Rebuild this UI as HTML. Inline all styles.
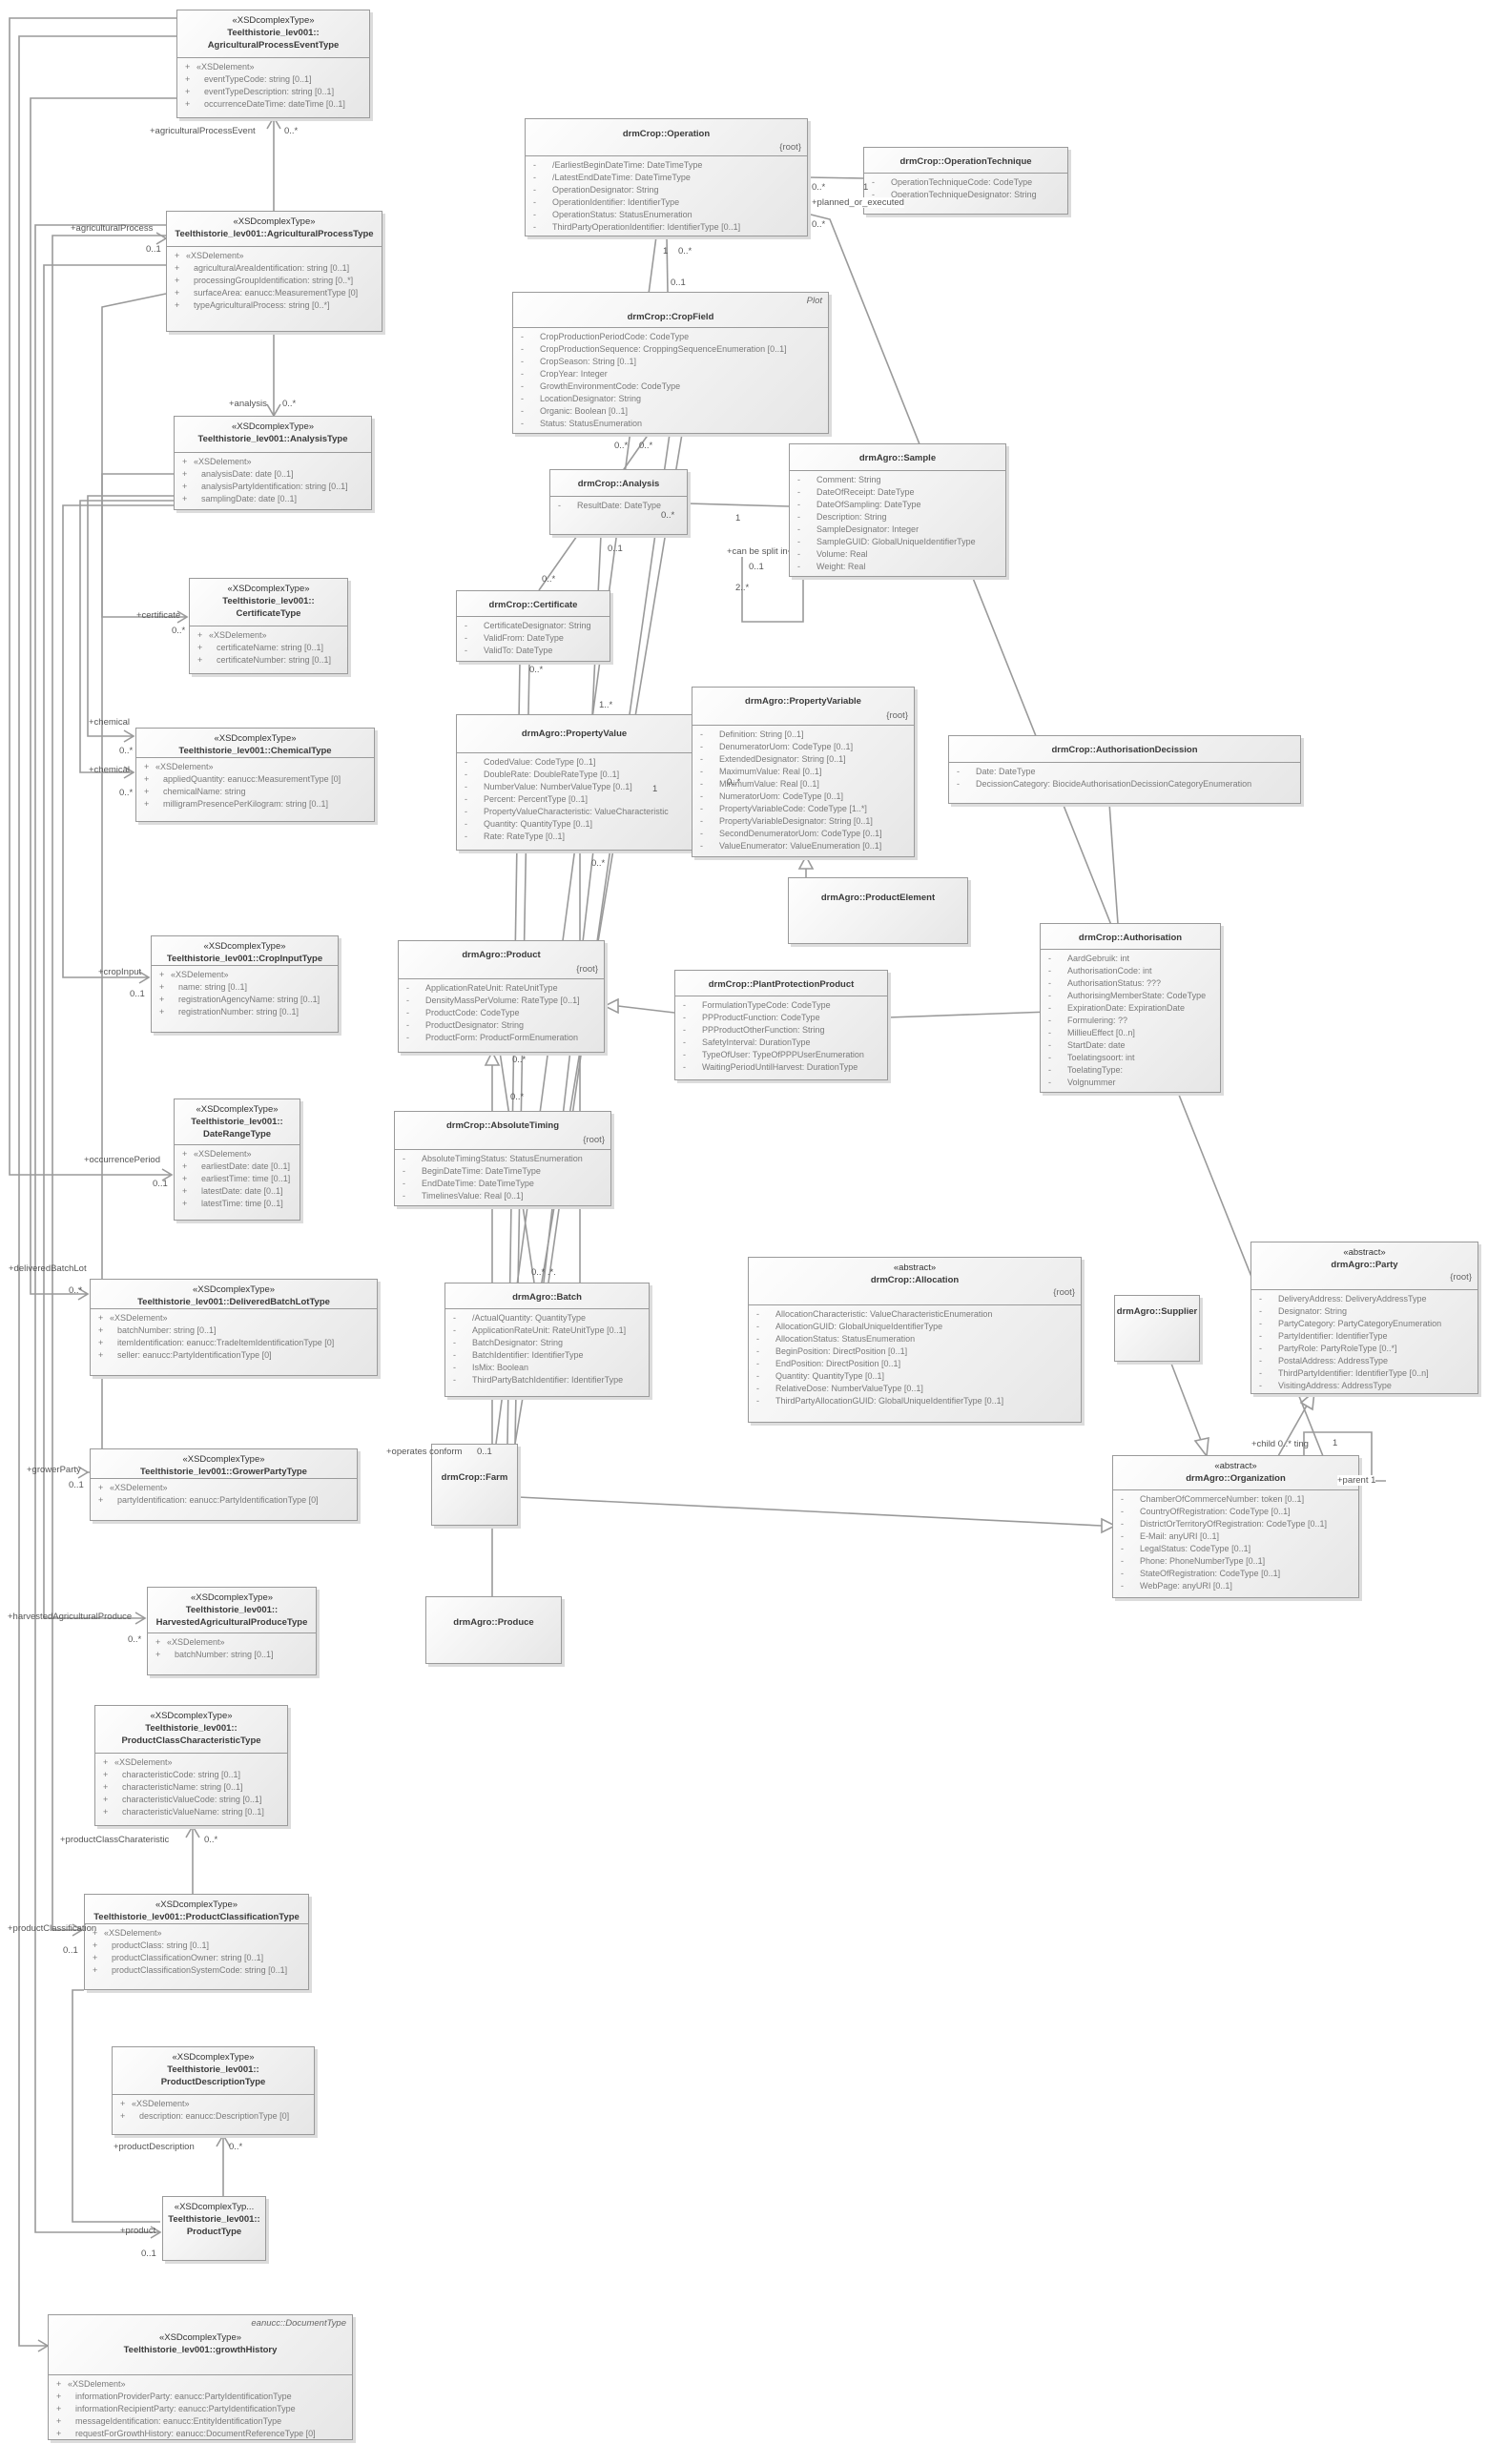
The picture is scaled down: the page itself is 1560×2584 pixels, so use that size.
<!DOCTYPE html>
<html><head><meta charset="utf-8"><style>
body{margin:0;background:#fff;}
#c{position:relative;width:1560px;height:2584px;overflow:hidden;font-family:"Liberation Sans",sans-serif;}
.b{position:absolute;border:1.5px solid #9a9a9a;background:linear-gradient(135deg,#fefefe 0%,#f1f1f1 55%,#e6e6e6 100%);box-shadow:3px 3px 0 #dcdcdc;box-sizing:border-box;font-size:9.5px;}
.h{border-bottom:1.5px solid #9a9a9a;text-align:center;color:#333;line-height:13px;box-sizing:border-box;padding-top:4px;position:relative}
.h b{font-weight:bold;color:#3a3a3a}
.h .r{position:absolute;right:6px;color:#666;}
.a{color:#7a7a7a;line-height:13px;white-space:nowrap;padding:3px 0 0 6px;font-size:9px;overflow:hidden}
.a div{position:relative;padding-left:22px}
.a div:before{content:"-";position:absolute;left:2px}
.a.p div:before{content:"+"}
.a .s{padding-left:14px}
.a .s:before{content:""}
.l{position:absolute;font-size:9.5px;color:#555;white-space:nowrap;line-height:11px}
svg{position:absolute;left:0;top:0}
</style></head><body><div id="c">
<svg width="1560" height="2584" fill="none" stroke="#9a9a9a" stroke-width="1.6">
<polyline points="185,19 10,19 10,1232 180,1232"/>
<polyline points="185,38 20,38 20,2460 50,2460"/>
<polyline points="185,103 32,103 32,1357 92,1357"/>
<polyline points="174,247 55,247 55,2024 86,2024"/>
<polyline points="174,236 37,236 37,2341 168,2341"/>
<polyline points="174,278 46,278 46,1697 152,1697"/>
<polyline points="174,308 107,322 107,1544 92,1544"/>
<polyline points="182,497 107,497 107,647 196,647"/>
<polyline points="182,520 92,520 92,772 140,772"/>
<polyline points="182,525 84,525 84,810 140,810"/>
<polyline points="182,530 66,530 66,1025 156,1025"/>
<polyline points="287,123 287,221"/><polyline points="280,135 287,123 294,135"/>
<polyline points="287,348 287,436"/><polyline points="280,424 287,436 294,424"/>
<polyline points="202,1915 202,1986"/><polyline points="195,1927 202,1915 209,1927"/>
<polyline points="234,2239 234,2303"/><polyline points="227,2251 234,2239 241,2251"/>
<polyline points="88,2087 76,2087 76,2330 168,2330"/>
<polyline points="170,1226 180,1232 170,1238"/>
<polyline points="40,2454 50,2460 40,2466"/>
<polyline points="82,1351 92,1357 82,1363"/>
<polyline points="76,2018 86,2024 76,2030"/>
<polyline points="158,2335 168,2341 158,2347"/>
<polyline points="142,1691 152,1697 142,1703"/>
<polyline points="82,1538 92,1544 82,1550"/>
<polyline points="186,641 196,647 186,653"/>
<polyline points="130,766 140,772 130,778"/>
<polyline points="130,804 140,810 130,816"/>
<polyline points="146,1019 156,1025 146,1031"/>
<polyline points="164,244 174,250 164,256"/>
<line x1="846" y1="186" x2="905" y2="187"/>
<line x1="699" y1="248" x2="700" y2="306"/>
<polyline points="846,224 870,230 1387,1527"/>
<line x1="688" y1="248" x2="520" y2="1514"/>
<line x1="680" y1="455" x2="565" y2="619"/>
<line x1="702" y1="455" x2="575" y2="1345"/>
<line x1="715" y1="455" x2="540" y2="1514"/>
<line x1="721" y1="528" x2="827" y2="531"/>
<line x1="630" y1="561" x2="621" y2="750"/>
<line x1="545" y1="693" x2="532" y2="1514"/>
<line x1="555" y1="693" x2="540" y2="1514"/>
<line x1="608" y1="892" x2="608" y2="1345"/>
<line x1="622" y1="892" x2="570" y2="1345"/>
<line x1="726" y1="813" x2="770" y2="812"/>
<line x1="845" y1="898" x2="845" y2="920"/><polygon points="838,911 845,898 852,911" fill="#fff"/>
<line x1="1163" y1="842" x2="1172" y2="969"/>
<line x1="931" y1="1067" x2="1101" y2="1061"/>
<line x1="707" y1="1062" x2="648" y2="1055"/><polygon points="648,1048 634,1055 648,1062" fill="#fff"/>
<line x1="516" y1="1117" x2="516" y2="1674"/><polygon points="509,1117 516,1103 523,1117" fill="#fff"/>
<line x1="524" y1="1103" x2="560" y2="1345"/>
<line x1="543" y1="1570" x2="1155" y2="1600"/><polygon points="1155,1593 1169,1600 1155,1607" fill="#fff"/>
<line x1="1228" y1="1430" x2="1260" y2="1513"/><polygon points="1253,1511 1265,1527 1267,1508" fill="#fff"/>
<line x1="1340" y1="1527" x2="1370" y2="1474"/><polygon points="1364,1471 1378,1459 1376,1478" fill="#fff"/>
<polyline points="1367,1527 1367,1502 1438,1502 1438,1553 1453,1553"/>
<polyline points="778,578 842,578 842,652 778,652 778,578"/>
</svg>

<div class="b" style="left:185px;top:10px;width:203px;height:114px"><div class="h" style="height:50px">«XSDcomplexType»<br><b>Teelthistorie_lev001::<br>AgriculturalProcessEventType</b></div><div class="a p"><div class="s">«XSDelement»</div><div>eventTypeCode: string [0..1]</div><div>eventTypeDescription: string [0..1]</div><div>occurrenceDateTime: dateTime [0..1]</div></div></div>
<div class="b" style="left:174px;top:221px;width:227px;height:127px"><div class="h" style="height:37px">«XSDcomplexType»<br><b>Teelthistorie_lev001::AgriculturalProcessType</b></div><div class="a p"><div class="s">«XSDelement»</div><div>agriculturalAreaIdentification: string [0..1]</div><div>processingGroupIdentification: string [0..*]</div><div>surfaceArea: eanucc:MeasurementType [0]</div><div>typeAgriculturalProcess: string [0..*]</div></div></div>
<div class="b" style="left:182px;top:436px;width:208px;height:99px"><div class="h" style="height:38px">«XSDcomplexType»<br><b>Teelthistorie_lev001::AnalysisType</b></div><div class="a p"><div class="s">«XSDelement»</div><div>analysisDate: date [0..1]</div><div>analysisPartyIdentification: string [0..1]</div><div>samplingDate: date [0..1]</div></div></div>
<div class="b" style="left:198px;top:606px;width:167px;height:101px"><div class="h" style="height:50px">«XSDcomplexType»<br><b>Teelthistorie_lev001::<br>CertificateType</b></div><div class="a p"><div class="s">«XSDelement»</div><div>certificateName: string [0..1]</div><div>certificateNumber: string [0..1]</div></div></div>
<div class="b" style="left:142px;top:763px;width:251px;height:99px"><div class="h" style="height:31px">«XSDcomplexType»<br><b>Teelthistorie_lev001::ChemicalType</b></div><div class="a p"><div class="s">«XSDelement»</div><div>appliedQuantity: eanucc:MeasurementType [0]</div><div>chemicalName: string</div><div>milligramPresencePerKilogram: string [0..1]</div></div></div>
<div class="b" style="left:158px;top:981px;width:197px;height:102px"><div class="h" style="height:31px">«XSDcomplexType»<br><b>Teelthistorie_lev001::CropInputType</b></div><div class="a p"><div class="s">«XSDelement»</div><div>name: string [0..1]</div><div>registrationAgencyName: string [0..1]</div><div>registrationNumber: string [0..1]</div></div></div>
<div class="b" style="left:182px;top:1152px;width:133px;height:128px"><div class="h" style="height:48px">«XSDcomplexType»<br><b>Teelthistorie_lev001::<br>DateRangeType</b></div><div class="a p"><div class="s">«XSDelement»</div><div>earliestDate: date [0..1]</div><div>earliestTime: time [0..1]</div><div>latestDate: date [0..1]</div><div>latestTime: time [0..1]</div></div></div>
<div class="b" style="left:94px;top:1341px;width:302px;height:102px"><div class="h" style="height:31px">«XSDcomplexType»<br><b>Teelthistorie_lev001::DeliveredBatchLotType</b></div><div class="a p"><div class="s">«XSDelement»</div><div>batchNumber: string [0..1]</div><div>itemIdentification: eanucc:TradeItemIdentificationType [0]</div><div>seller: eanucc:PartyIdentificationType [0]</div></div></div>
<div class="b" style="left:94px;top:1519px;width:281px;height:76px"><div class="h" style="height:31px">«XSDcomplexType»<br><b>Teelthistorie_lev001::GrowerPartyType</b></div><div class="a p"><div class="s">«XSDelement»</div><div>partyIdentification: eanucc:PartyIdentificationType [0]</div></div></div>
<div class="b" style="left:154px;top:1664px;width:178px;height:93px"><div class="h" style="height:48px">«XSDcomplexType»<br><b>Teelthistorie_lev001::<br>HarvestedAgriculturalProduceType</b></div><div class="a p"><div class="s">«XSDelement»</div><div>batchNumber: string [0..1]</div></div></div>
<div class="b" style="left:99px;top:1788px;width:203px;height:127px"><div class="h" style="height:50px">«XSDcomplexType»<br><b>Teelthistorie_lev001::<br>ProductClassCharacteristicType</b></div><div class="a p"><div class="s">«XSDelement»</div><div>characteristicCode: string [0..1]</div><div>characteristicName: string [0..1]</div><div>characteristicValueCode: string [0..1]</div><div>characteristicValueName: string [0..1]</div></div></div>
<div class="b" style="left:88px;top:1986px;width:236px;height:101px"><div class="h" style="height:31px">«XSDcomplexType»<br><b>Teelthistorie_lev001::ProductClassificationType</b></div><div class="a p"><div class="s">«XSDelement»</div><div>productClass: string [0..1]</div><div>productClassificationOwner: string [0..1]</div><div>productClassificationSystemCode: string [0..1]</div></div></div>
<div class="b" style="left:117px;top:2146px;width:213px;height:93px"><div class="h" style="height:50px">«XSDcomplexType»<br><b>Teelthistorie_lev001::<br>ProductDescriptionType</b></div><div class="a p"><div class="s">«XSDelement»</div><div>description: eanucc:DescriptionType [0]</div></div></div>
<div class="b" style="left:170px;top:2303px;width:109px;height:68px"><div class="h" style="height:48px;border-bottom:none">«XSDcomplexTyp...<br><b>Teelthistorie_lev001::<br>ProductType</b></div></div>
<div class="b" style="left:50px;top:2427px;width:320px;height:132px"><div class="h" style="height:63px;padding-top:17px"><span class="r" style="top:2px;font-style:italic">eanucc::DocumentType</span>«XSDcomplexType»<br><b>Teelthistorie_lev001::growthHistory</b></div><div class="a p"><div class="s">«XSDelement»</div><div>informationProviderParty: eanucc:PartyIdentificationType</div><div>informationRecipientParty: eanucc:PartyIdentificationType</div><div>messageIdentification: eanucc:EntityIdentificationType</div><div>requestForGrowthHistory: eanucc:DocumentReferenceType [0]</div></div></div>

<div class="b" style="left:550px;top:124px;width:297px;height:124px"><div class="h" style="height:39px;padding-top:9px"><b>drmCrop::Operation</b><span class="r" style="top:23px">{root}</span></div><div class="a"><div>/EarliestBeginDateTime: DateTimeType</div><div>/LatestEndDateTime: DateTimeType</div><div>OperationDesignator: String</div><div>OperationIdentifier: IdentifierType</div><div>OperationStatus: StatusEnumeration</div><div>ThirdPartyOperationIdentifier: IdentifierType [0..1]</div></div></div>
<div class="b" style="left:905px;top:154px;width:215px;height:71px"><div class="h" style="height:27px;padding-top:8px"><b>drmCrop::OperationTechnique</b></div><div class="a"><div>OperationTechniqueCode: CodeType</div><div>OperationTechniqueDesignator: String</div></div></div>
<div class="b" style="left:537px;top:306px;width:332px;height:149px"><div class="h" style="height:37px;padding-top:19px"><span class="r" style="top:2px;font-style:italic">Plot</span><b>drmCrop::CropField</b></div><div class="a"><div>CropProductionPeriodCode: CodeType</div><div>CropProductionSequence: CroppingSequenceEnumeration [0..1]</div><div>CropSeason: String [0..1]</div><div>CropYear: Integer</div><div>GrowthEnvironmentCode: CodeType</div><div>LocationDesignator: String</div><div>Organic: Boolean [0..1]</div><div>Status: StatusEnumeration</div></div></div>
<div class="b" style="left:576px;top:492px;width:145px;height:69px"><div class="h" style="height:28px;padding-top:8px"><b>drmCrop::Analysis</b></div><div class="a"><div>ResultDate: DateType</div></div></div>
<div class="b" style="left:827px;top:465px;width:228px;height:140px"><div class="h" style="height:28px;padding-top:8px"><b>drmAgro::Sample</b></div><div class="a"><div>Comment: String</div><div>DateOfReceipt: DateType</div><div>DateOfSampling: DateType</div><div>Description: String</div><div>SampleDesignator: Integer</div><div>SampleGUID: GlobalUniqueIdentifierType</div><div>Volume: Real</div><div>Weight: Real</div></div></div>
<div class="b" style="left:478px;top:619px;width:162px;height:75px"><div class="h" style="height:27px;padding-top:8px"><b>drmCrop::Certificate</b></div><div class="a"><div>CertificateDesignator: String</div><div>ValidFrom: DateType</div><div>ValidTo: DateType</div></div></div>
<div class="b" style="left:478px;top:749px;width:248px;height:143px"><div class="h" style="height:40px;padding-top:13px"><b>drmAgro::PropertyValue</b></div><div class="a"><div>CodedValue: CodeType [0..1]</div><div>DoubleRate: DoubleRateType [0..1]</div><div>NumberValue: NumberValueType [0..1]</div><div>Percent: PercentType [0..1]</div><div>PropertyValueCharacteristic: ValueCharacteristic</div><div>Quantity: QuantityType [0..1]</div><div>Rate: RateType [0..1]</div></div></div>
<div class="b" style="left:725px;top:720px;width:234px;height:179px"><div class="h" style="height:40px;padding-top:8px"><b>drmAgro::PropertyVariable</b><span class="r" style="top:23px">{root}</span></div><div class="a"><div>Definition: String [0..1]</div><div>DenumeratorUom: CodeType [0..1]</div><div>ExtendedDesignator: String [0..1]</div><div>MaximumValue: Real [0..1]</div><div>MinimumValue: Real [0..1]</div><div>NumeratorUom: CodeType [0..1]</div><div>PropertyVariableCode: CodeType [1..*]</div><div>PropertyVariableDesignator: String [0..1]</div><div>SecondDenumeratorUom: CodeType [0..1]</div><div>ValueEnumerator: ValueEnumeration [0..1]</div></div></div>
<div class="b" style="left:826px;top:920px;width:189px;height:70px"><div class="h" style="height:40px;padding-top:14px;border-bottom:none"><b>drmAgro::ProductElement</b></div></div>
<div class="b" style="left:994px;top:771px;width:370px;height:72px"><div class="h" style="height:28px;padding-top:8px"><b>drmCrop::AuthorisationDecission</b></div><div class="a"><div>Date: DateType</div><div>DecissionCategory: BiocideAuthorisationDecissionCategoryEnumeration</div></div></div>
<div class="b" style="left:1090px;top:968px;width:190px;height:178px"><div class="h" style="height:27px;padding-top:8px"><b>drmCrop::Authorisation</b></div><div class="a"><div>AardGebruik: int</div><div>AuthorisationCode: int</div><div>AuthorisationStatus: ???</div><div>AuthorisingMemberState: CodeType</div><div>ExpirationDate: ExpirationDate</div><div>Formulering: ??</div><div>MillieuEffect [0..n]</div><div>StartDate: date</div><div>Toelatingsoort: int</div><div>ToelatingType:</div><div>Volgnummer</div></div></div>
<div class="b" style="left:707px;top:1017px;width:224px;height:116px"><div class="h" style="height:27px;padding-top:8px"><b>drmCrop::PlantProtectionProduct</b></div><div class="a"><div>FormulationTypeCode: CodeType</div><div>PPProductFunction: CodeType</div><div>PPProductOtherFunction: String</div><div>SafetyInterval: DurationType</div><div>TypeOfUser: TypeOfPPPUserEnumeration</div><div>WaitingPeriodUntilHarvest: DurationType</div></div></div>
<div class="b" style="left:417px;top:986px;width:217px;height:118px"><div class="h" style="height:40px;padding-top:8px"><b>drmAgro::Product</b><span class="r" style="top:23px">{root}</span></div><div class="a"><div>ApplicationRateUnit: RateUnitType</div><div>DensityMassPerVolume: RateType [0..1]</div><div>ProductCode: CodeType</div><div>ProductDesignator: String</div><div>ProductForm: ProductFormEnumeration</div></div></div>
<div class="b" style="left:413px;top:1165px;width:228px;height:100px"><div class="h" style="height:40px;padding-top:8px"><b>drmCrop::AbsoluteTiming</b><span class="r" style="top:23px">{root}</span></div><div class="a"><div>AbsoluteTimingStatus: StatusEnumeration</div><div>BeginDateTime: DateTimeType</div><div>EndDateTime: DateTimeType</div><div>TimelinesValue: Real [0..1]</div></div></div>
<div class="b" style="left:466px;top:1345px;width:215px;height:120px"><div class="h" style="height:27px;padding-top:8px"><b>drmAgro::Batch</b></div><div class="a"><div>/ActualQuantity: QuantityType</div><div>ApplicationRateUnit: RateUnitType [0..1]</div><div>BatchDesignator: String</div><div>BatchIdentifier: IdentifierType</div><div>IsMix: Boolean</div><div>ThirdPartyBatchIdentifier: IdentifierType</div></div></div>
<div class="b" style="left:784px;top:1318px;width:350px;height:174px"><div class="h" style="height:50px">«abstract»<br><b>drmCrop::Allocation</b><span class="r" style="top:30px">{root}</span></div><div class="a"><div>AllocationCharacteristic: ValueCharacteristicEnumeration</div><div>AllocationGUID: GlobalUniqueIdentifierType</div><div>AllocationStatus: StatusEnumeration</div><div>BeginPosition: DirectPosition [0..1]</div><div>EndPosition: DirectPosition [0..1]</div><div>Quantity: QuantityType [0..1]</div><div>RelativeDose: NumberValueType [0..1]</div><div>ThirdPartyAllocationGUID: GlobalUniqueIdentifierType [0..1]</div></div></div>
<div class="b" style="left:1168px;top:1358px;width:90px;height:70px"><div class="h" style="border-bottom:none;padding-top:10px"><b>drmAgro::Supplier</b></div></div>
<div class="b" style="left:1311px;top:1302px;width:239px;height:160px"><div class="h" style="height:50px">«abstract»<br><b>drmAgro::Party</b><span class="r" style="top:30px">{root}</span></div><div class="a"><div>DeliveryAddress: DeliveryAddressType</div><div>Designator: String</div><div>PartyCategory: PartyCategoryEnumeration</div><div>PartyIdentifier: IdentifierType</div><div>PartyRole: PartyRoleType [0..*]</div><div>PostalAddress: AddressType</div><div>ThirdPartyIdentifier: IdentifierType [0..n]</div><div>VisitingAddress: AddressType</div></div></div>
<div class="b" style="left:1166px;top:1526px;width:259px;height:150px"><div class="h" style="height:36px">«abstract»<br><b>drmAgro::Organization</b></div><div class="a"><div>ChamberOfCommerceNumber: token [0..1]</div><div>CountryOfRegistration: CodeType [0..1]</div><div>DistrictOrTerritoryOfRegistration: CodeType [0..1]</div><div>E-Mail: anyURI [0..1]</div><div>LegalStatus: CodeType [0..1]</div><div>Phone: PhoneNumberType [0..1]</div><div>StateOfRegistration: CodeType [0..1]</div><div>WebPage: anyURI [0..1]</div></div></div>
<div class="b" style="left:452px;top:1514px;width:91px;height:86px"><div class="h" style="border-bottom:none;padding-top:28px"><b>drmCrop::Farm</b></div></div>
<div class="b" style="left:446px;top:1674px;width:143px;height:71px"><div class="h" style="border-bottom:none;padding-top:20px"><b>drmAgro::Produce</b></div></div>

<div class="l" style="left:157px;top:132px">+agriculturalProcessEvent</div><div class="l" style="left:298px;top:132px">0..*</div>
<div class="l" style="left:74px;top:234px">+agriculturalProcess</div><div class="l" style="left:153px;top:256px">0..1</div>
<div class="l" style="left:240px;top:418px">+analysis</div><div class="l" style="left:296px;top:418px">0..*</div>
<div class="l" style="left:143px;top:640px">+certificate</div><div class="l" style="left:180px;top:656px">0..*</div>
<div class="l" style="left:93px;top:752px">+chemical</div><div class="l" style="left:125px;top:782px">0..*</div>
<div class="l" style="left:93px;top:802px">+chemical</div><div class="l" style="left:125px;top:826px">0..*</div>
<div class="l" style="left:103px;top:1014px">+cropInput</div><div class="l" style="left:136px;top:1037px">0..1</div>
<div class="l" style="left:88px;top:1211px">+occurrencePeriod</div><div class="l" style="left:160px;top:1236px">0..1</div>
<div class="l" style="left:9px;top:1325px">+deliveredBatchLot</div><div class="l" style="left:72px;top:1348px">0..*</div>
<div class="l" style="left:28px;top:1536px">+growerParty</div><div class="l" style="left:72px;top:1552px">0..1</div>
<div class="l" style="left:8px;top:1690px">+harvestedAgriculturalProduce</div><div class="l" style="left:134px;top:1714px">0..*</div>
<div class="l" style="left:63px;top:1924px">+productClassCharateristic</div><div class="l" style="left:214px;top:1924px">0..*</div>
<div class="l" style="left:8px;top:2017px">+productClassification</div><div class="l" style="left:66px;top:2040px">0..1</div>
<div class="l" style="left:119px;top:2246px">+productDescription</div><div class="l" style="left:240px;top:2246px">0..*</div>
<div class="l" style="left:126px;top:2334px">+product</div><div class="l" style="left:148px;top:2358px">0..1</div>
<div class="l" style="left:851px;top:191px">0..*</div><div class="l" style="left:905px;top:191px">1</div>
<div class="l" style="left:851px;top:207px;background:#fff">+planned_or_executed</div>
<div class="l" style="left:851px;top:230px">0..*</div>
<div class="l" style="left:695px;top:258px">1</div><div class="l" style="left:711px;top:258px">0..*</div><div class="l" style="left:703px;top:291px">0..1</div>
<div class="l" style="left:644px;top:462px">0..*</div><div class="l" style="left:670px;top:462px">0..*</div>
<div class="l" style="left:693px;top:535px">0..*</div><div class="l" style="left:771px;top:538px">1</div>
<div class="l" style="left:637px;top:570px">0..1</div>
<div class="l" style="left:762px;top:573px;background:#fff">+can be split in</div>
<div class="l" style="left:785px;top:589px">0..1</div><div class="l" style="left:771px;top:611px">2..*</div>
<div class="l" style="left:568px;top:602px">0..*</div>
<div class="l" style="left:555px;top:697px">0..*</div>
<div class="l" style="left:628px;top:734px">1..*</div>
<div class="l" style="left:684px;top:822px">1</div><div class="l" style="left:762px;top:815px">0..*</div>
<div class="l" style="left:620px;top:900px">0..*</div>
<div class="l" style="left:537px;top:1106px">0..*</div><div class="l" style="left:535px;top:1145px">0..*</div>
<div class="l" style="left:557px;top:1329px">0..* .*.</div>
<div class="l" style="left:405px;top:1517px">+operates conform</div><div class="l" style="left:500px;top:1517px">0..1</div>
<div class="l" style="left:1312px;top:1509px">+child 0..* ting</div><div class="l" style="left:1397px;top:1508px">1</div>
<div class="l" style="left:1402px;top:1547px;background:#fff">+parent 1</div>
</div></body></html>
